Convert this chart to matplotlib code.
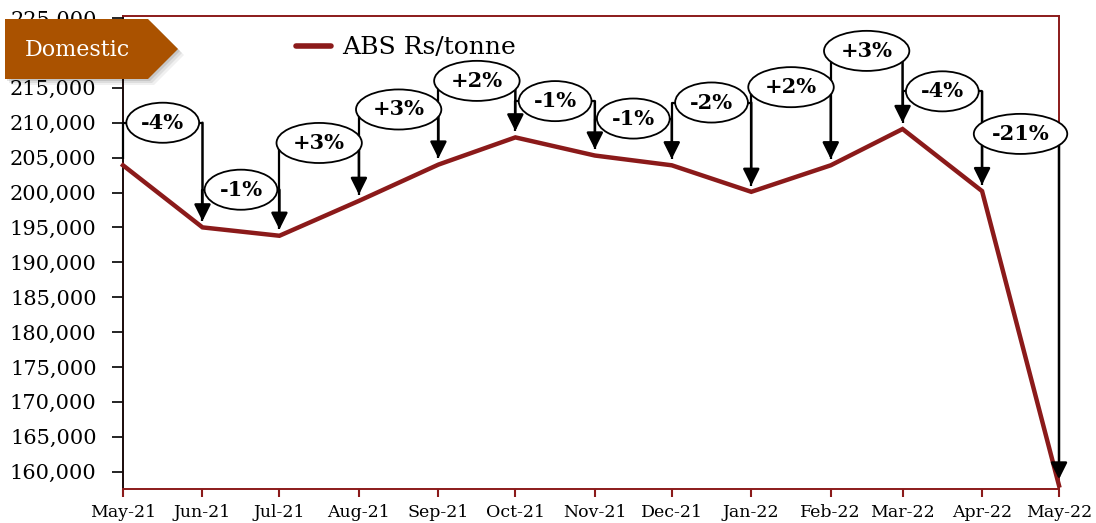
import matplotlib
matplotlib.use("Agg")
import matplotlib.pyplot as plt
import matplotlib.dates as mdates
from matplotlib.patches import Polygon
from matplotlib.ticker import FuncFormatter
from datetime import datetime

# monthly ABS price, Rs/tonne
months = ["2021-05", "2021-06", "2021-07", "2021-08", "2021-09", "2021-10", "2021-11",
          "2021-12", "2022-01", "2022-02", "2022-03", "2022-04", "2022-05"]
abs_price = [203900, 195000, 193800, 198800, 204000, 207900, 205300,
             203900, 200100, 203900, 209100, 200200, 158000]

# height of each month-on-month bracket (data units)
bracket_level = [210000, 200400, 207100, 211900, 216000, 213100,
                 210600, 212900, 215100, 220300, 214500, 208400]

series_name = "ABS Rs/tonne"
badge_text = "Domestic"

RED = "#8B1A1A"
BADGE = "#AA5200"
W, H = 1096, 523

dates = [datetime.strptime(m, "%Y-%m") for m in months]

plt.rcParams["font.family"] = ["DejaVu Serif"]

fig = plt.figure(figsize=(W / 100, H / 100), dpi=100)
ax = fig.add_axes([123 / W, 1 - 489 / H, (1059 - 123) / W, (489 - 16) / H])

ax.plot(dates, abs_price, color=RED, lw=3.2, solid_joinstyle="miter",
        zorder=3, label=series_name, clip_on=False)

ax.set_xlim(dates[0], dates[-1])
ax.set_ylim(157500, 225300)
ax.set_yticks(range(160000, 225001, 5000))
ax.yaxis.set_major_formatter(FuncFormatter(lambda v, p: f"{int(v):,}"))
ax.set_xticks(dates)
ax.xaxis.set_major_formatter(mdates.DateFormatter("%b-%y"))

for side in ("top", "right", "bottom"):
    ax.spines[side].set_color(RED)
    ax.spines[side].set_linewidth(1.4)
ax.spines["left"].set_color("#1a0a0a")
ax.spines["left"].set_linewidth(1.4)

ax.tick_params(axis="y", direction="out", length=8, width=1.2, color="black",
               labelsize=15, pad=11)
ax.tick_params(axis="x", direction="out", length=6, width=1.5, color=RED,
               labelsize=12.5, pad=5)

# month-on-month change brackets
gap = 900
for i in range(len(abs_price) - 1):
    x0, x1 = dates[i], dates[i + 1]
    y0, y1 = abs_price[i], abs_price[i + 1]
    lvl = bracket_level[i]
    pct = (y1 - y0) / y0 * 100
    ax.plot([x0, x0, x1], [y0 + gap, lvl, lvl], color="black", lw=1.6,
            zorder=4, clip_on=False, solid_capstyle="butt")
    ax.annotate("", xy=(x1, y1 + gap), xytext=(x1, lvl),
                arrowprops=dict(arrowstyle="-|>", color="black", lw=1.8,
                                mutation_scale=25, shrinkA=0, shrinkB=0),
                zorder=4, annotation_clip=False)
    xm = x0 + (x1 - x0) / 2
    ax.text(xm, lvl, f"{pct:+.0f}%", ha="center", va="center", fontsize=15,
            fontweight="bold", zorder=6,
            bbox=dict(boxstyle="ellipse,pad=0.2", fc="white", ec="black", lw=1.3))

leg = ax.legend(loc="upper left", bbox_to_anchor=((278 - 123) / (1059 - 123), 0.994),
                frameon=False, fontsize=18, handlelength=1.4, handletextpad=0.45,
                borderaxespad=0.3)
leg.get_lines()[0].set_linewidth(4)
leg.get_lines()[0].set_solid_capstyle("round")

# "Domestic" arrow badge with a soft shadow
def px(x, y):
    return (x / W, 1 - y / H)

badge = [px(5, 19), px(148, 19), px(178, 49), px(148, 79), px(5, 79)]
for k, a in enumerate([0.10, 0.08, 0.06]):
    off = 2 + 2 * k
    sh = [(bx + off / W, by - off / H) for bx, by in badge]
    fig.patches.append(Polygon(sh, closed=True, transform=fig.transFigure,
                               fc="black", ec="none", alpha=a, zorder=8))
fig.patches.append(Polygon(badge, closed=True, transform=fig.transFigure,
                           fc=BADGE, ec="none", zorder=9))
fig.text(77 / W, 1 - 50 / H, badge_text, color="white", fontsize=16,
         ha="center", va="center", zorder=10)

fig.savefig("out.png", dpi=100)
